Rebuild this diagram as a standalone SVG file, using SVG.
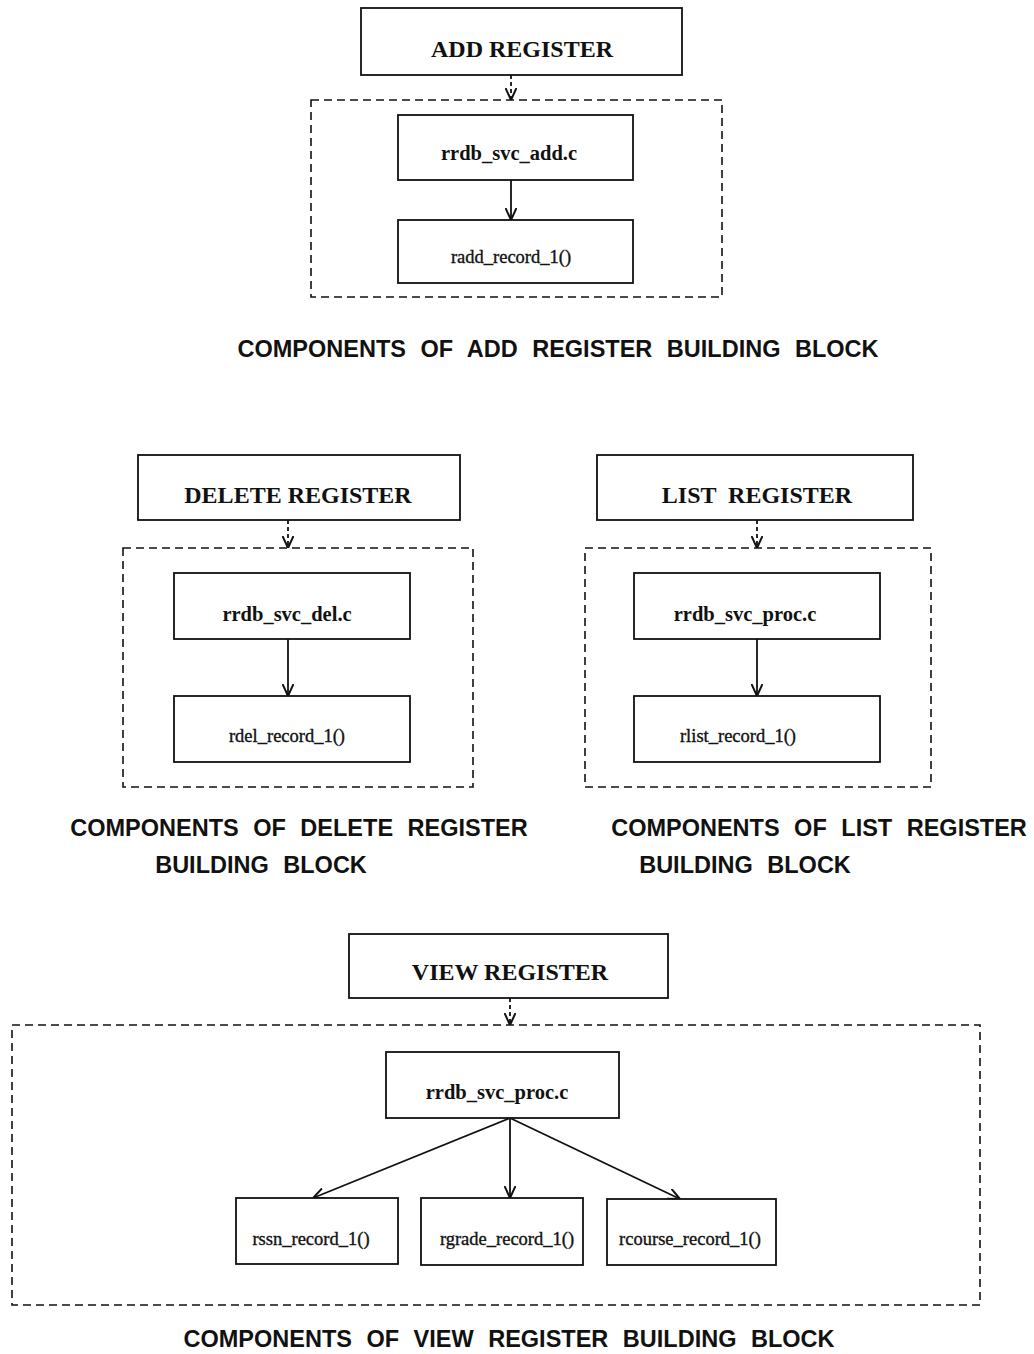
<svg xmlns="http://www.w3.org/2000/svg" width="1034" height="1354" viewBox="0 0 1034 1354">
  <style>
    .box { fill: #ffffff; stroke: #111; stroke-width: 1.8; }
    .group { fill: none; stroke: #111; stroke-width: 1.6; stroke-dasharray: 8 5; }
    .title { font-family: "Liberation Serif", "Times New Roman", serif; font-weight: bold; font-size: 24px; fill: #111; text-anchor: middle; }
    .file { font-family: "Liberation Serif", "Times New Roman", serif; font-weight: bold; font-size: 20.5px; fill: #111; text-anchor: middle; }
    .func { font-family: "Liberation Serif", "Times New Roman", serif; font-size: 18.5px; fill: #111; text-anchor: middle; stroke: #111; stroke-width: 0.35; }
    .caption { font-family: "Liberation Sans", Arial, sans-serif; font-weight: bold; font-size: 23.5px; fill: #111; text-anchor: middle; word-spacing: 8px; }
    .link { fill: none; stroke: #111; stroke-width: 1.8; marker-end: url(#vee); }
    .dlink { fill: none; stroke: #111; stroke-width: 1.8; stroke-dasharray: 4 3; marker-end: url(#vee); }
  </style>
  <defs>
    <marker id="vee" viewBox="0 0 12 12" refX="12" refY="6" markerWidth="12" markerHeight="12" markerUnits="userSpaceOnUse" orient="auto">
      <path d="M0,0.5 L12,6 L0,11.5" fill="none" stroke="#111" stroke-width="2"/>
    </marker>
  </defs>
  <rect width="1034" height="1354" fill="#ffffff"/>

  <!-- component groups (dashed outlines) -->
  <g id="groups">
    <rect id="add-group" class="group" x="311" y="100" width="411" height="197"/>
    <rect id="del-group" class="group" x="123" y="548" width="350" height="239"/>
    <rect id="list-group" class="group" x="585" y="548" width="346" height="239"/>
    <rect id="view-group" class="group" x="12" y="1025" width="968" height="280"/>
  </g>

  <!-- connectors -->
  <g id="connectors">
    <path class="dlink" d="M511,75 L511,100"/>
    <path class="link" d="M511,180 L511,220"/>
    <path class="dlink" d="M288,520 L288,548"/>
    <path class="link" d="M288,639 L288,696"/>
    <path class="dlink" d="M757,520 L757,548"/>
    <path class="link" d="M757,639 L757,696"/>
    <path class="dlink" d="M510,998 L510,1025"/>
    <path class="link" d="M510,1118 L313,1198"/>
    <path class="link" d="M510,1118 L510,1198"/>
    <path class="link" d="M510,1118 L680,1199"/>
  </g>

  <!-- ADD REGISTER block -->
  <g id="add-register">
    <rect class="box" x="361" y="8" width="321" height="67"/>
    <text class="title" x="522" y="57">ADD REGISTER</text>
  </g>
  <g id="rrdb-svc-add">
    <rect class="box" x="398" y="115" width="235" height="65"/>
    <text class="file" x="509" y="160">rrdb_svc_add.c</text>
  </g>
  <g id="radd-record">
    <rect class="box" x="398" y="220" width="235" height="63"/>
    <text class="func" x="511" y="263">radd_record_1()</text>
  </g>
  <text class="caption" x="558" y="357">COMPONENTS OF ADD REGISTER BUILDING BLOCK</text>

  <!-- DELETE REGISTER block -->
  <g id="delete-register">
    <rect class="box" x="138" y="455" width="322" height="65"/>
    <text class="title" x="298" y="503">DELETE REGISTER</text>
  </g>
  <g id="rrdb-svc-del">
    <rect class="box" x="174" y="573" width="236" height="66"/>
    <text class="file" x="287" y="621">rrdb_svc_del.c</text>
  </g>
  <g id="rdel-record">
    <rect class="box" x="174" y="696" width="236" height="66"/>
    <text class="func" x="287" y="742">rdel_record_1()</text>
  </g>
  <text class="caption" x="299" y="836">COMPONENTS OF DELETE REGISTER</text>
  <text class="caption" x="261" y="873">BUILDING BLOCK</text>

  <!-- LIST REGISTER block -->
  <g id="list-register">
    <rect class="box" x="597" y="455" width="316" height="65"/>
    <text class="title" x="757" y="503" word-spacing="6">LIST REGISTER</text>
  </g>
  <g id="rrdb-svc-proc-list">
    <rect class="box" x="634" y="573" width="246" height="66"/>
    <text class="file" x="745" y="621">rrdb_svc_proc.c</text>
  </g>
  <g id="rlist-record">
    <rect class="box" x="634" y="696" width="246" height="66"/>
    <text class="func" x="738" y="742">rlist_record_1()</text>
  </g>
  <text class="caption" x="819" y="836">COMPONENTS OF LIST REGISTER</text>
  <text class="caption" x="745" y="873">BUILDING BLOCK</text>

  <!-- VIEW REGISTER block -->
  <g id="view-register">
    <rect class="box" x="349" y="934" width="319" height="64"/>
    <text class="title" x="510" y="980">VIEW REGISTER</text>
  </g>
  <g id="rrdb-svc-proc-view">
    <rect class="box" x="386" y="1052" width="233" height="66"/>
    <text class="file" x="497" y="1099">rrdb_svc_proc.c</text>
  </g>
  <g id="rssn-record">
    <rect class="box" x="236" y="1198" width="162" height="66"/>
    <text class="func" x="311" y="1245">rssn_record_1()</text>
  </g>
  <g id="rgrade-record">
    <rect class="box" x="421" y="1198" width="162" height="67"/>
    <text class="func" x="507" y="1245">rgrade_record_1()</text>
  </g>
  <g id="rcourse-record">
    <rect class="box" x="607" y="1199" width="169" height="66"/>
    <text class="func" x="690" y="1245">rcourse_record_1()</text>
  </g>
  <text class="caption" x="509" y="1347">COMPONENTS OF VIEW REGISTER BUILDING BLOCK</text>
</svg>
